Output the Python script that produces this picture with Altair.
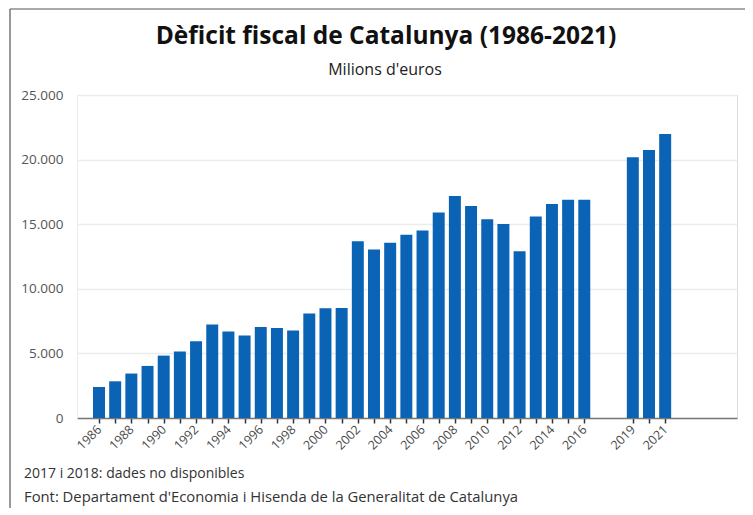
import altair as alt
import pandas as pd

years = [1986, 1987, 1988, 1989, 1990, 1991, 1992, 1993, 1994, 1995, 1996,
         1997, 1998, 1999, 2000, 2001, 2002, 2003, 2004, 2005, 2006, 2007,
         2008, 2009, 2010, 2011, 2012, 2013, 2014, 2015, 2016, 2019, 2020, 2021]
deficit = [2400, 2840, 3440, 4030, 4830, 5140, 5940, 7240, 6690, 6380, 7050,
           6970, 6770, 8090, 8500, 8520, 13680, 13050, 13560, 14180, 14520, 15910,
           17180, 16400, 15390, 15010, 12910, 15600, 16560, 16890, 16890, 20180, 20740, 21980]
labeled_years = [1986, 1988, 1990, 1992, 1994, 1996, 1998, 2000, 2002, 2004,
                 2006, 2008, 2010, 2012, 2014, 2016, 2019, 2021]
y_ticks = [0, 5000, 10000, 15000, 20000, 25000]
title_text = ["Dèficit fiscal de Catalunya (1986-2021)"]
subtitle_text = ["Milions d'euros"]
footnotes = ["2017 i 2018: dades no disponibles",
             "Font: Departament d'Economia i Hisenda de la Generalitat de Catalunya"]

df = pd.DataFrame({"any": years, "deficit": deficit})

FONT = "Open Sans"
W, H = 660, 323

lab_list = "[" + ",".join(str(v) for v in labeled_years) + "]"

bars = alt.Chart(df).transform_calculate(
    x0="datum.any - 0.37", x1="datum.any + 0.37"
).mark_bar(color="#0b63b5").encode(
    x=alt.X("x0:Q",
            scale=alt.Scale(domain=[1984.64, 2025.44], nice=False, zero=False),
            axis=alt.Axis(values=years, format="d", title=None, grid=False,
                          labelAngle=-45, labelAlign="right", labelBaseline="middle",
                          labelExpr=f"indexof({lab_list}, datum.value) >= 0 ? datum.label : ''",
                          labelFont=FONT, labelFontSize=12.5, labelColor="#4a4a4a",
                          labelPadding=4, labelOverlap=False,
                          tickSize=5, tickColor="#333333", tickWidth=1.5,
                          domainColor="#777777", domainWidth=1.5)),
    x2="x1:Q",
    y=alt.Y("deficit:Q",
            scale=alt.Scale(domain=[0, 25000], nice=False),
            axis=alt.Axis(values=y_ticks, format=",d", title=None,
                          labelExpr="replace(datum.label, ',', '.')",
                          labelFont=FONT, labelFontSize=13.5, labelColor="#555555",
                          labelPadding=14, ticks=False,
                          grid=True, gridColor="#ececec", gridWidth=1.5,
                          domainColor="#ececec")),
    y2=alt.datum(0),
)

title = alt.Chart(pd.DataFrame({"t": title_text})).mark_text(
    align="center", baseline="alphabetic", font=FONT, fontSize=24.5,
    fontWeight="bold", color="#111111"
).encode(text="t:N", x=alt.value(309), y=alt.value(-51))

subtitle = alt.Chart(pd.DataFrame({"t": subtitle_text})).mark_text(
    align="center", baseline="alphabetic", font=FONT, fontSize=16, color="#222222"
).encode(text="t:N", x=alt.value(308), y=alt.value(-20))

notes_df = pd.DataFrame({"txt": footnotes, "row": [0, 1]})
notes = alt.Chart(notes_df).mark_text(
    align="left", baseline="alphabetic", font=FONT, fontSize=14, color="#333333"
).encode(
    text="txt:N", x=alt.value(-53), y=alt.value(383),
).transform_filter("datum.row == 0")

notes2 = alt.Chart(notes_df).mark_text(
    align="left", baseline="alphabetic", font=FONT, fontSize=14.8, color="#333333"
).encode(
    text="txt:N", x=alt.value(-53), y=alt.value(407),
).transform_filter("datum.row == 1")

frame_left = alt.Chart(notes_df).mark_rule(color="#555555", strokeWidth=1.2).encode(
    x=alt.value(-67), y=alt.value(-86), y2=alt.value(420)
).transform_filter("datum.row == 0")
frame_top = alt.Chart(notes_df).mark_rule(color="#555555", strokeWidth=1.2).encode(
    x=alt.value(-67), x2=alt.value(668), y=alt.value(-86)
).transform_filter("datum.row == 0")

chart = alt.layer(bars, title, subtitle, notes, notes2, frame_left, frame_top).properties(
    width=W, height=H,
    autosize=alt.AutoSizeParams(type="none"),
    padding={"left": 69, "top": 87, "right": 8, "bottom": 90},
).configure_view(stroke=None).configure(background="white")

chart.save("out.html", embed_options={"renderer": "svg", "actions": False})
